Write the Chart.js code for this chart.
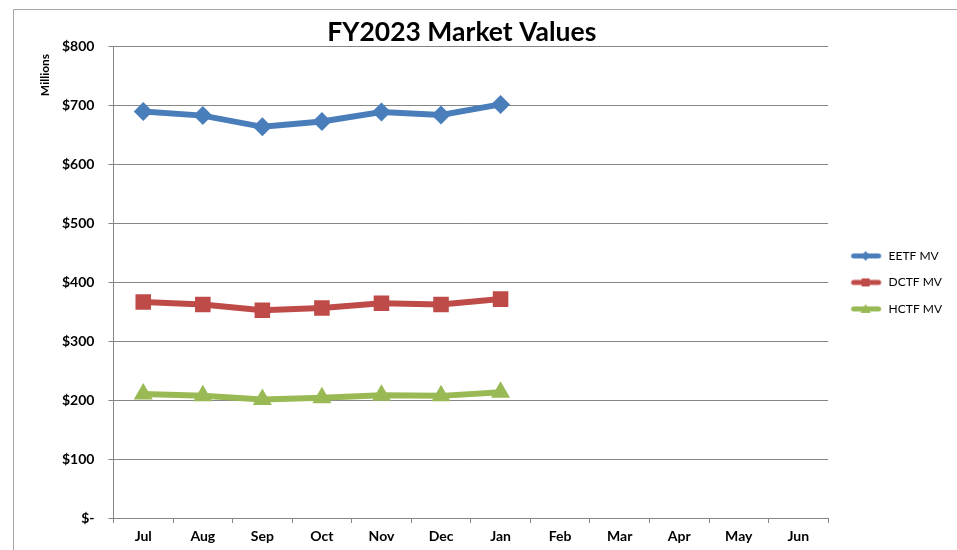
<!DOCTYPE html>
<html>
<head>
<meta charset="utf-8">
<script src="https://cdn.jsdelivr.net/npm/chart.js@4.4.0/dist/chart.umd.min.js"></script>
<style>
  body { margin: 0; background: #fff; }
  #wrap { position: relative; width: 957px; height: 550px; overflow: hidden; }
</style>
</head>
<body>
<div id="wrap"><canvas id="mvChart" width="957" height="550"></canvas></div>
<script>
// datos (millones)
const months = ['Jul', 'Aug', 'Sep', 'Oct', 'Nov', 'Dec', 'Jan', 'Feb', 'Mar', 'Apr', 'May', 'Jun'];
const eetfMV = [689, 682, 663, 672, 688, 683, 701];
const dctfMV = [366, 362, 352, 356, 364, 362, 371];
const hctfMV = [210, 207, 201, 204, 208, 207, 213];
const seriesNames = ['EETF MV', 'DCTF MV', 'HCTF MV'];
const chartTitle = 'FY2023 Market Values';
const yTitle = 'Millions';

const blue = '#4A7EBB';
const red = '#BE4B48';
const green = '#98B954';

// icono de leyenda: linea con marcador al centro
function legendIcon(color, shape) {
    const c = document.createElement('canvas');
    c.width = 40;
    c.height = 14;
    const ctx = c.getContext('2d');
    ctx.strokeStyle = color;
    ctx.fillStyle = color;
    ctx.lineWidth = 5;
    ctx.lineCap = 'round';
    ctx.beginPath();
    ctx.moveTo(11, 7);
    ctx.lineTo(36, 7);
    ctx.stroke();
    ctx.beginPath();
    if (shape === 'diamond') {
        ctx.moveTo(23, 2); ctx.lineTo(27, 7); ctx.lineTo(23, 12); ctx.lineTo(19, 7);
    } else if (shape === 'square') {
        ctx.rect(19, 3, 8, 8);
    } else {
        ctx.moveTo(23, 2); ctx.lineTo(28, 11); ctx.lineTo(18, 11);
    }
    ctx.closePath();
    ctx.fill();
    return c;
}
const icons = [legendIcon(blue, 'diamond'), legendIcon(red, 'square'), legendIcon(green, 'triangle')];

// borde exterior, titulo y titulo del eje Y
const decorations = {
    id: 'decorations',
    beforeDraw(chart) {
        const ctx = chart.ctx;
        ctx.save();
        ctx.strokeStyle = '#a6a6a6';
        ctx.lineWidth = 1;
        ctx.beginPath();
        ctx.moveTo(13.5, 560);
        ctx.lineTo(13.5, 9.5);
        ctx.lineTo(960, 9.5);
        ctx.stroke();
        ctx.restore();
    },
    afterDraw(chart) {
        const ctx = chart.ctx;
        const area = chart.chartArea;
        ctx.save();
        ctx.fillStyle = '#000';
        ctx.textAlign = 'center';
        ctx.textBaseline = 'middle';
        ctx.font = 'bold 26.5px Lato';
        ctx.fillText(chartTitle, (area.left + area.right) / 2 - 9, 32);
        ctx.translate(45, area.top + 29);
        ctx.rotate(-Math.PI / 2);
        ctx.font = 'bold 12px Lato';
        ctx.fillText(yTitle, 0, 0);
        ctx.restore();
    }
};

const ctx = document.getElementById('mvChart').getContext('2d');
const mvChart = new Chart(ctx, {
    type: 'line',
    data: {
        labels: months,
        datasets: [{
            label: seriesNames[0],
            data: eetfMV,
            borderColor: blue,
            backgroundColor: blue,
            pointStyle: 'rectRot',
            pointRadius: 9.5,
            pointBorderWidth: 0
        }, {
            label: seriesNames[1],
            data: dctfMV,
            borderColor: red,
            backgroundColor: red,
            pointStyle: 'rect',
            pointRadius: 11,
            pointBorderWidth: 0
        }, {
            label: seriesNames[2],
            data: hctfMV,
            borderColor: green,
            backgroundColor: green,
            pointStyle: 'triangle',
            pointRadius: 11,
            pointBorderWidth: 0
        }]
    },
    options: {
        responsive: false,
        animation: false,
        elements: {
            line: { borderWidth: 6, tension: 0 }
        },
        layout: {
            padding: { left: 48, top: 46, right: 5, bottom: 0 }
        },
        plugins: {
            title: { display: false },
            legend: {
                position: 'right',
                align: 'start',
                // titulo vacio solo para bajar los items de la leyenda
                title: {
                    display: true,
                    text: ' ',
                    font: { family: 'Lato', size: 12 },
                    padding: { top: 175, bottom: 0 }
                },
                labels: {
                    usePointStyle: true,
                    pointStyleWidth: 40,
                    color: '#000',
                    font: { family: 'Lato', size: 12 },
                    padding: 14.5,
                    generateLabels: function(chart) {
                        const items = Chart.defaults.plugins.legend.labels.generateLabels(chart);
                        items.forEach(function(item, i) {
                            item.pointStyle = icons[i];
                        });
                        return items;
                    }
                }
            },
            tooltip: { enabled: false }
        },
        scales: {
            x: {
                offset: true,
                grid: {
                    offset: true,
                    drawOnChartArea: false,
                    color: '#868686',
                    tickLength: 5
                },
                border: { color: '#868686' },
                ticks: {
                    color: '#000',
                    font: { family: 'Lato', size: 14, weight: 'bold', lineHeight: 1 },
                    padding: 6.5,
                    maxRotation: 0
                }
            },
            y: {
                min: 0,
                max: 800,
                grid: {
                    color: '#868686',
                    tickLength: 5
                },
                border: { color: '#868686' },
                ticks: {
                    stepSize: 100,
                    color: '#000',
                    font: { family: 'Lato', size: 14, weight: 'bold' },
                    padding: 14,
                    callback: function(value) {
                        return value === 0 ? '$-' : '$' + value;
                    }
                }
            }
        }
    },
    plugins: [decorations]
});
</script>
</body>
</html>
